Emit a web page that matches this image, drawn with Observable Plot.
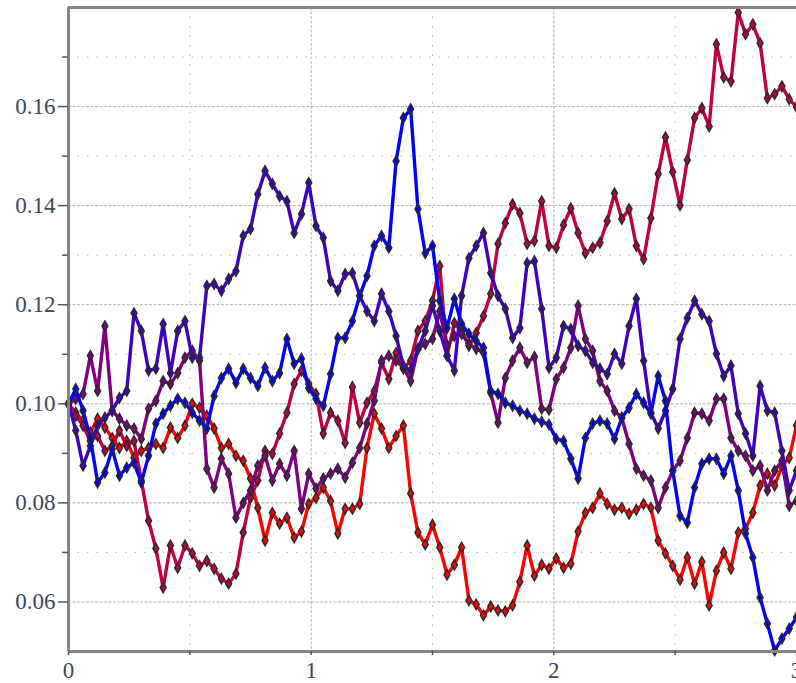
<!DOCTYPE html>
<html>
<head>
<meta charset="utf-8">
<script src="https://cdn.jsdelivr.net/npm/d3@7"></script>
<script src="https://cdn.jsdelivr.net/npm/@observablehq/plot@0.6"></script>
<style>
  html, body { margin: 0; padding: 0; background: #ffffff; }
  #chart svg { display: block; }
  #chart svg text { font-family: "Liberation Serif", "Times New Roman", serif !important; font-size: 23px !important; }
</style>
</head>
<body>
<div id="chart"></div>
<script>
// time step between successive points (t runs 0 .. 3)
const dt = 0.03;

const seriesNames = ["red", "crimson", "purple", "indigo", "blue"];
const seriesColors = ["#ff0000", "#c0003f", "#800080", "#4000bf", "#0000ff"];

const red = [0.1000,0.0982,0.0966,0.0942,0.0970,0.0952,0.0931,0.0911,0.0925,0.0891,
0.0905,0.0911,0.0919,0.0911,0.0952,0.0931,0.0956,0.1000,0.0992,0.0976,
0.0950,0.0911,0.0919,0.0895,0.0885,0.0849,0.0790,0.0724,0.0780,0.0758,
0.0770,0.0730,0.0742,0.0798,0.0810,0.0831,0.0804,0.0738,0.0788,0.0788,
0.0798,0.0911,0.0980,0.0950,0.0911,0.0935,0.0956,0.0819,0.0740,0.0716,
0.0756,0.0710,0.0655,0.0675,0.0710,0.0603,0.0595,0.0573,0.0591,0.0583,
0.0581,0.0593,0.0641,0.0714,0.0653,0.0675,0.0667,0.0688,0.0669,0.0677,
0.0742,0.0780,0.0790,0.0819,0.0798,0.0786,0.0790,0.0778,0.0786,0.0798,
0.0790,0.0724,0.0698,0.0673,0.0645,0.0690,0.0637,0.0681,0.0593,0.0663,
0.0700,0.0667,0.0740,0.0748,0.0780,0.0835,0.0859,0.0835,0.0875,0.0891,
0.0956];

const crimson = [0.1000,0.0976,0.0956,0.0925,0.0935,0.0905,0.0915,0.0946,0.0915,0.0925,
0.0845,0.0764,0.0708,0.0629,0.0714,0.0669,0.0714,0.0698,0.0673,0.0683,
0.0667,0.0647,0.0637,0.0657,0.0740,0.0810,0.0845,0.0905,0.0899,0.0940,
0.0982,0.1040,0.1067,0.1040,0.1020,0.0940,0.0982,0.0966,0.0921,0.1034,
0.0962,0.1002,0.1026,0.1083,0.1050,0.1103,0.1071,0.1087,0.1147,0.1167,
0.1208,0.1278,0.1097,0.1163,0.1147,0.1117,0.1143,0.1177,0.1222,0.1323,
0.1365,0.1403,0.1385,0.1323,0.1329,0.1409,0.1319,0.1315,0.1361,0.1395,
0.1345,0.1304,0.1315,0.1325,0.1369,0.1425,0.1373,0.1393,0.1319,0.1292,
0.1375,0.1464,0.1538,0.1468,0.1401,0.1492,0.1577,0.1597,0.1560,0.1726,
0.1659,0.1651,0.1790,0.1746,0.1766,0.1728,0.1617,0.1625,0.1641,0.1615,
0.1599];

const purple = [0.1000,0.1010,0.1020,0.1097,0.1026,0.1157,0.0986,0.0970,0.0956,0.0950,
0.0929,0.0990,0.1006,0.1046,0.1040,0.1062,0.1093,0.1107,0.1087,0.0869,
0.0831,0.0889,0.0859,0.0770,0.0800,0.0825,0.0875,0.0895,0.0845,0.0879,
0.0855,0.0905,0.0788,0.0859,0.0829,0.0849,0.0859,0.0869,0.0851,0.0881,
0.0911,0.0960,0.1006,0.1087,0.1097,0.1087,0.1073,0.1046,0.1111,0.1121,
0.1131,0.1187,0.1117,0.1137,0.1141,0.1121,0.1111,0.1103,0.1022,0.0962,
0.1052,0.1087,0.1113,0.1083,0.1095,0.0990,0.0988,0.1050,0.1073,0.1113,
0.1198,0.1131,0.1107,0.1046,0.1026,0.0986,0.0972,0.0919,0.0869,0.0855,
0.0845,0.0790,0.0831,0.0865,0.0885,0.0931,0.0982,0.0980,0.0966,0.1010,
0.1010,0.0931,0.0905,0.0895,0.0865,0.0875,0.0825,0.0865,0.0885,0.0794,
0.0804];

const indigo = [0.1000,0.0946,0.0875,0.0915,0.0956,0.0972,0.0986,0.1012,0.1026,0.1183,
0.1147,0.1067,0.1071,0.1161,0.1062,0.1147,0.1167,0.1093,0.1093,0.1238,
0.1242,0.1228,0.1252,0.1268,0.1339,0.1353,0.1423,0.1470,0.1444,0.1419,
0.1409,0.1345,0.1383,0.1446,0.1359,0.1335,0.1248,0.1228,0.1262,0.1264,
0.1218,0.1187,0.1167,0.1222,0.1187,0.1137,0.1077,0.1067,0.1111,0.1147,
0.1198,0.1147,0.1097,0.1067,0.1218,0.1294,0.1319,0.1345,0.1264,0.1218,
0.1192,0.1133,0.1153,0.1284,0.1288,0.1192,0.1073,0.1093,0.1157,0.1151,
0.1117,0.1107,0.1083,0.1071,0.1060,0.1101,0.1081,0.1157,0.1212,0.1087,
0.0982,0.0950,0.0986,0.1030,0.1131,0.1173,0.1208,0.1181,0.1167,0.1101,
0.1056,0.1077,0.0980,0.0940,0.0895,0.1036,0.0986,0.0982,0.0905,0.0825,
0.0865];

const blue = [0.1000,0.1030,0.0986,0.0931,0.0841,0.0861,0.0909,0.0855,0.0871,0.0881,
0.0841,0.0895,0.0960,0.0980,0.0996,0.1010,0.1002,0.0982,0.0966,0.0950,
0.1016,0.1052,0.1071,0.1042,0.1071,0.1052,0.1036,0.1073,0.1046,0.1062,
0.1131,0.1081,0.1091,0.1032,0.1010,0.0996,0.1060,0.1133,0.1133,0.1167,
0.1218,0.1258,0.1319,0.1339,0.1315,0.1490,0.1577,0.1595,0.1393,0.1304,
0.1319,0.1208,0.1153,0.1212,0.1161,0.1141,0.1127,0.1113,0.1026,0.1020,
0.1002,0.0996,0.0986,0.0980,0.0970,0.0964,0.0958,0.0929,0.0925,0.0889,
0.0849,0.0931,0.0960,0.0966,0.0960,0.0929,0.0972,0.0992,0.1020,0.1002,
0.0980,0.1056,0.1006,0.0865,0.0774,0.0760,0.0831,0.0879,0.0889,0.0889,
0.0859,0.0895,0.0825,0.0738,0.0690,0.0609,0.0556,0.0502,0.0526,0.0546,
0.0569];

const xTicks = [0, 1, 2, 3];
const xMinorTicks = [0.5, 1.5, 2.5];
const yTicks = [0.06, 0.08, 0.10, 0.12, 0.14, 0.16];
const yMinorTicks = [0.07, 0.09, 0.11, 0.13, 0.15, 0.17];
const xDomain = [0, 3];
const yDomain = [0.05, 0.18];

const seriesValues = [red, crimson, purple, indigo, blue];

const rows = [];
seriesValues.forEach((vals, s) => {
  vals.forEach((v, i) => rows.push({series: seriesNames[s], t: i * dt, v}));
});

const labelFont = "Liberation Serif";
const labelColor = "#3a4565";

const seriesMarks = [];
seriesNames.forEach((name, s) => {
  const data = rows.filter(d => d.series === name);
  seriesMarks.push(Plot.line(data, {x: "t", y: "v", stroke: seriesColors[s], strokeWidth: 3.4, strokeLinejoin: "round"}));
  seriesMarks.push(Plot.dot(data, {x: "t", y: "v", symbol: "diamond", r: 3.1, fill: seriesColors[s], stroke: "#2a2a2a", strokeWidth: 1.5}));
});

const chart = Plot.plot({
  width: 796,
  height: 683,
  marginLeft: 68,
  marginRight: 0,
  marginTop: 7,
  marginBottom: 32,
  style: {background: "#ffffff", overflow: "visible", fontFamily: "Liberation Serif, serif"},
  x: {domain: xDomain, axis: null},
  y: {domain: yDomain, axis: null},
  marks: [
    Plot.gridY(yMinorTicks, {stroke: "#b8b8b8", strokeOpacity: 1, strokeDasharray: "1.5,8"}),
    Plot.gridX(xMinorTicks, {stroke: "#b8b8b8", strokeOpacity: 1, strokeDasharray: "1.5,8"}),
    Plot.gridY(yTicks, {stroke: "#b0b0b0", strokeOpacity: 1, strokeDasharray: "3,1.5"}),
    Plot.gridX([1, 2], {stroke: "#b0b0b0", strokeOpacity: 1, strokeDasharray: "3,1.5"}),
    ...seriesMarks,
    Plot.ruleX([xDomain[0]], {stroke: "#858585", strokeWidth: 3}),
    Plot.ruleY([yDomain[0]], {stroke: "#858585", strokeWidth: 3}),
    Plot.ruleY([yDomain[1]], {stroke: "#858585", strokeWidth: 3}),
    Plot.axisY(yTicks, {tickSize: 10, tickPadding: 3, stroke: "#555", strokeWidth: 1.5,
      tickFormat: d3.format(".2f"), fontSize: 23, fontFamily: labelFont, fill: labelColor, label: null}),
    Plot.axisY(yMinorTicks, {tickSize: 6, stroke: "#555", strokeWidth: 1.5, tickFormat: () => null, label: null}),
    Plot.axisX(xTicks, {tickSize: 4, tickPadding: 6, stroke: "#555", strokeWidth: 1.5,
      tickFormat: d3.format("d"), fontSize: 23, fontFamily: labelFont, fill: labelColor, label: null}),
    Plot.axisX(xMinorTicks, {tickSize: 4, stroke: "#555", strokeWidth: 1.5, tickFormat: () => null, label: null})
  ]
});

document.getElementById("chart").appendChild(chart);
</script>
</body>
</html>
